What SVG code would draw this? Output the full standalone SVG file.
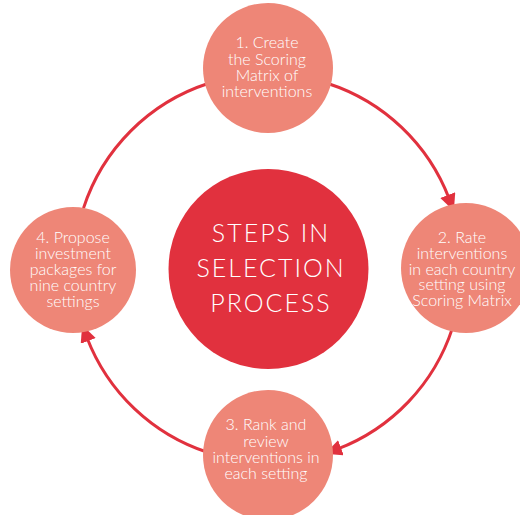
<svg xmlns="http://www.w3.org/2000/svg" width="520" height="515" viewBox="0 0 520 515">
<defs>
<marker id="ah" markerUnits="userSpaceOnUse" markerWidth="18" markerHeight="18" viewBox="0 0 18 18" refX="4" refY="8" orient="auto">
<path d="M0,0 L17,8 L0,16 Z" fill="#e1313e"/>
</marker>
<style>
.conn{fill:none;stroke:#e1313e;stroke-width:3}
.node{fill:#ee8677}
.t{font-family:Lato,"Liberation Sans",sans-serif;font-size:16px;fill:#ffffff;text-anchor:middle;font-weight:300}
.c{font-family:Lato,"Liberation Sans",sans-serif;font-size:25px;fill:#ffffff;text-anchor:middle;font-weight:300;letter-spacing:2px}
</style>
</defs>
<rect width="520" height="515" fill="#ffffff"/>
<g id="connectors">
<path class="conn" d="M327.9,83.5 A194,194 0 0 1 449.2,198.8" marker-end="url(#ah)"/>
<path class="conn" d="M452.5,327.9 A194,194 0 0 1 337.2,449.2" marker-end="url(#ah)"/>
<path class="conn" d="M208.1,452.5 A194,194 0 0 1 86.8,337.2" marker-end="url(#ah)"/>
<path class="conn" d="M83.5,208.1 A194,194 0 0 1 208.1,83.5"/>
</g>
<g id="center">
<circle cx="268.5" cy="269" r="100" fill="#e1313e"/>
<text class="c" x="271" y="242">STEPS IN</text>
<text class="c" x="271" y="277">SELECTION</text>
<text class="c" x="271" y="312">PROCESS</text>
</g>
<g id="step1">
<circle class="node" cx="268" cy="68" r="65"/>
<text class="t" x="267" y="48">1. Create</text>
<text class="t" x="267" y="65">the Scoring</text>
<text class="t" x="267" y="81">Matrix of</text>
<text class="t" x="267" y="97">interventions</text>
</g>
<g id="step2">
<circle class="node" cx="466" cy="268" r="65"/>
<text class="t" x="462" y="243">2. Rate</text>
<text class="t" x="462" y="259">interventions</text>
<text class="t" x="462" y="275">in each country</text>
<text class="t" x="462" y="290">setting using</text>
<text class="t" x="462" y="306">Scoring Matrix</text>
</g>
<g id="step3">
<circle class="node" cx="268" cy="455" r="65"/>
<text class="t" x="266" y="430">3. Rank and</text>
<text class="t" x="266" y="447">review</text>
<text class="t" x="266" y="463">interventions in</text>
<text class="t" x="266" y="479">each setting</text>
</g>
<g id="step4">
<circle class="node" cx="73" cy="270" r="63"/>
<text class="t" x="73" y="243">4. Propose</text>
<text class="t" x="73" y="259">investment</text>
<text class="t" x="73" y="275">packages for</text>
<text class="t" x="73" y="291">nine country</text>
<text class="t" x="73" y="307">settings</text>
</g>
</svg>
